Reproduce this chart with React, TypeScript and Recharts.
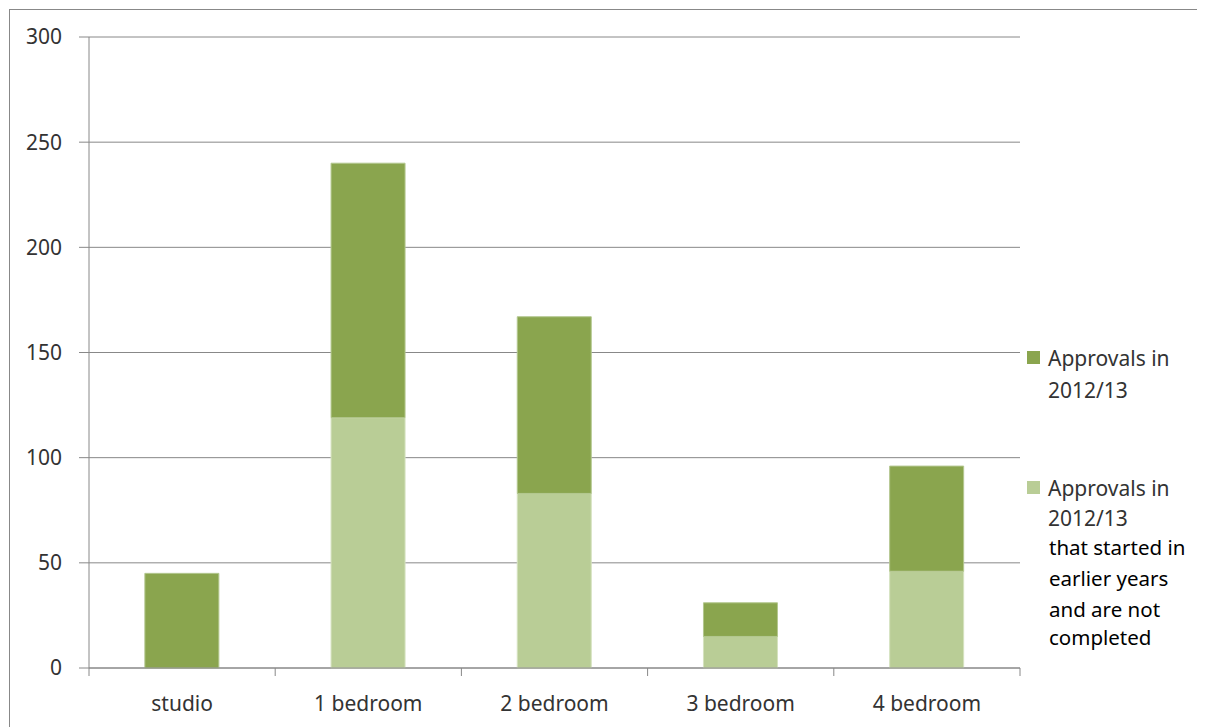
import { Bar, BarChart, CartesianGrid, XAxis, YAxis } from "recharts";

const categories = ["studio", "1 bedroom", "2 bedroom", "3 bedroom", "4 bedroom"];
const startedEarlier = [0, 119, 83, 15, 46];
const approvedThisYear = [45, 121, 84, 16, 50];
const yTicks = [0, 50, 100, 150, 200, 250, 300];

const legendCurrent = ["Approvals in", "2012/13"];
const legendEarlier = ["Approvals in", "2012/13"];
const legendEarlierNote = ["that started in", "earlier years", "and are not", "completed"];

const DARK = "#8aa54e";
const LIGHT = "#b9cd96";
const GRID = "#888888";
const FONT = "'Noto Sans', sans-serif";

const data = categories.map((name, i) => ({
  name,
  earlier: startedEarlier[i],
  current: approvedThisYear[i],
}));

const W = 1195;
const H = 717;
const margin = { top: 27, right: 185, bottom: 0, left: 0 };
const Y_W = 79;
const band = (W - margin.right - Y_W) / categories.length;

function CategoryTick(props: any) {
  const { x, y, payload, index } = props;
  return (
    <g>
      <line x1={x - band / 2} x2={x - band / 2} y1={y} y2={y + 8} stroke={GRID} />
      {index === categories.length - 1 && (
        <line x1={x + band / 2} x2={x + band / 2} y1={y} y2={y + 8} stroke={GRID} />
      )}
      <text x={x} y={y + 43} textAnchor="middle" fill="#333" fontSize={21} fontFamily={FONT}>
        {payload.value}
      </text>
    </g>
  );
}

// legend lines, placed by their vertical centre (chart coords)
function LegendLines({ lines, left, centers, color, size = 21 }: { lines: string[]; left: number; centers: number[]; color: string; size?: number }) {
  return (
    <>
      {lines.map((t, i) => (
        <div
          key={i}
          style={{
            position: "absolute",
            left,
            top: centers[i] - 11,
            height: 22,
            fontSize: size,
            lineHeight: "22px",
            color,
            whiteSpace: "nowrap",
          }}
        >
          {t}
        </div>
      ))}
    </>
  );
}

export default function App() {
  return (
    <div style={{ paddingLeft: 1, paddingTop: 1 }}>
      <style>{"html,body{overflow:hidden}"}</style>
      <div
        style={{
          position: "relative",
          width: W + 1,
          height: H + 1,
          borderLeft: "1px solid #888",
          borderTop: "1px solid #888",
          background: "#fff",
          fontFamily: FONT,
        }}
      >
        <BarChart width={W} height={H} data={data} margin={margin} barCategoryGap="30%">
          <CartesianGrid vertical={false} stroke={GRID} />
          <XAxis
            dataKey="name"
            height={59}
            tickSize={0}
            tickMargin={0}
            stroke={GRID}
            tick={<CategoryTick />}
            interval={0}
          />
          <YAxis
            width={Y_W}
            domain={[0, 300]}
            ticks={yTicks}
            tickSize={10}
            tickMargin={17}
            stroke={GRID}
            tick={{ fill: "#333", fontSize: 21, fontFamily: FONT }}
          />
          <Bar dataKey="earlier" stackId="a" fill={LIGHT} stroke="#d5e2bf" strokeWidth={1} isAnimationActive={false} />
          <Bar dataKey="current" stackId="a" fill={DARK} stroke="#b3c78f" strokeWidth={1} isAnimationActive={false} />
        </BarChart>
        <div style={{ position: "absolute", left: 1017, top: 341, width: 13, height: 13, background: DARK }} />
        <LegendLines lines={legendCurrent} left={1038} centers={[348, 380]} color="#333" />
        <div style={{ position: "absolute", left: 1017, top: 471, width: 13, height: 13, background: LIGHT }} />
        <LegendLines lines={legendEarlier} left={1038} centers={[478, 508]} color="#333" />
        <LegendLines lines={legendEarlierNote} left={1039} centers={[537, 568, 599, 627]} color="#000" size={20.5} />
      </div>
    </div>
  );
}
